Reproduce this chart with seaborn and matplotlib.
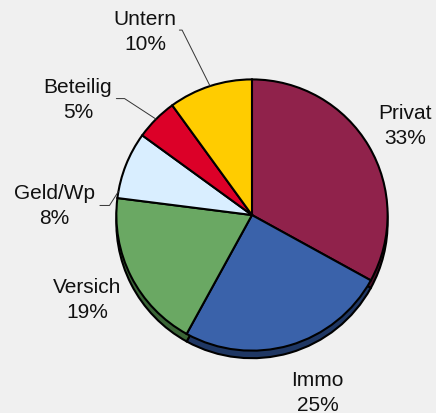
import matplotlib
matplotlib.use("Agg")
import matplotlib.pyplot as plt
import numpy as np
import seaborn as sns

categories = ["Privat", "Immo", "Versich", "Geld/Wp", "Beteilig", "Untern"]
shares = [33, 25, 19, 8, 5, 10]
colors = ["#90224b", "#3a62aa", "#6aa863", "#d9eeff", "#dc0028", "#ffcc00"]
shadow_colors = ["#4e1027", "#1f3763", "#3b6537", "#8fa3b3", "#7a0016", "#8c7000"]

# label centres (in pie radii) and leader-line bends
label_pos = {
    "Privat": (1.12, 0.66),
    "Immo": (0.48, -1.29),
    "Versich": (-1.20, -0.61),
    "Geld/Wp": (-1.44, 0.07),
    "Beteilig": (-1.27, 0.85),
    "Untern": (-0.78, 1.34),
}
leaders = {
    "Untern": (108, [(-0.51, 1.35), (-0.53, 1.35)]),
    "Beteilig": (135, [(-0.93, 0.85), (-0.99, 0.85)]),
    "Geld/Wp": (170, [(-1.04, 0.07), (-1.11, 0.07)]),
}

sns.set_style("white", {"axes.facecolor": "#f0f0f0", "figure.facecolor": "#f0f0f0"})
plt.rcParams["font.family"] = ["Liberation Sans", "DejaVu Sans"]

fig = plt.figure(figsize=(4.36, 4.14), dpi=100)
ax = fig.add_axes([0, 0, 1, 1])
ax.set_facecolor("#f0f0f0")

# shadow / depth layer
ax.pie(shares, colors=shadow_colors, startangle=90, counterclock=False,
       center=(0, -0.055), radius=0.99,
       wedgeprops={"edgecolor": "black", "linewidth": 1.5})
# top face
ax.pie(shares, colors=colors, startangle=90, counterclock=False,
       center=(0, 0), radius=0.99,
       wedgeprops={"edgecolor": "black", "linewidth": 1.5})

for cat, val in zip(categories, shares):
    x, y = label_pos[cat]
    ax.text(x, y, f"{cat}\n{val}%", ha="center", va="center",
            fontsize=15, color="#111111", linespacing=1.4)

for cat, (ang, pts) in leaders.items():
    a = np.deg2rad(ang)
    xs = [0.99 * np.cos(a)] + [p[0] for p in pts]
    ys = [0.99 * np.sin(a)] + [p[1] for p in pts]
    ax.plot(xs, ys, color="#333333", linewidth=0.7)

ax.set_xlim(-1.839, 1.343)
ax.set_ylim(-1.445, 1.577)
ax.set_aspect("equal")
ax.axis("off")

fig.savefig("out.png", dpi=100, facecolor="#f0f0f0")
